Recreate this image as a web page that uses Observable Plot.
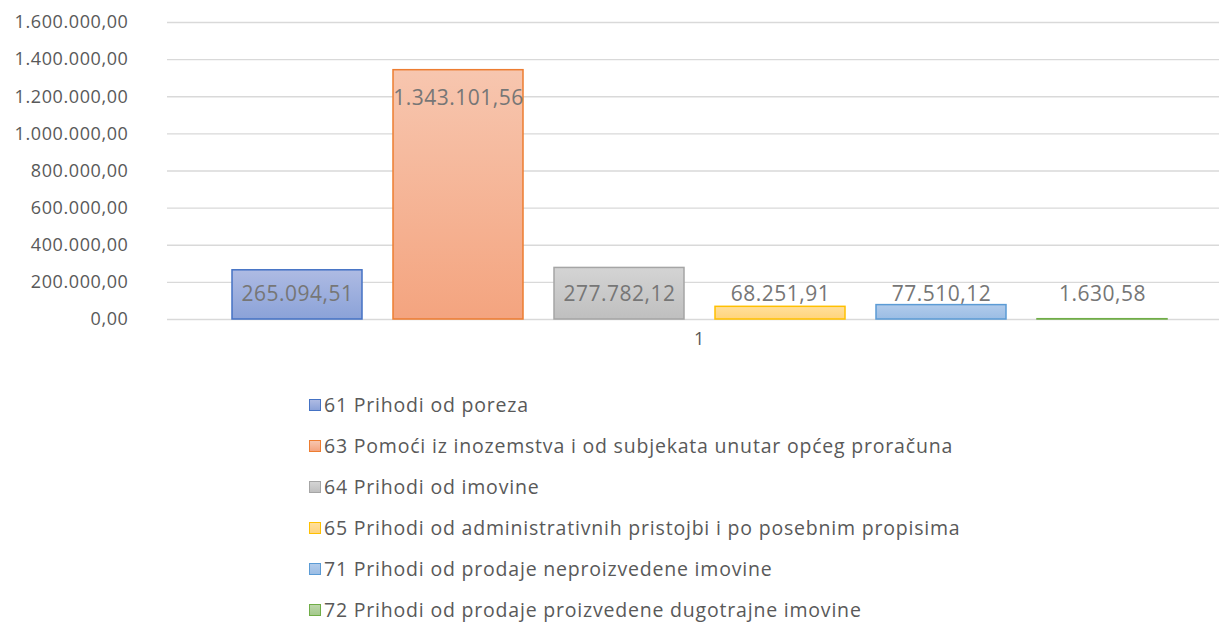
<!DOCTYPE html>
<html>
<head>
<meta charset="utf-8">
<script src="https://cdn.jsdelivr.net/npm/d3@7"></script>
<script src="https://cdn.jsdelivr.net/npm/@observablehq/plot@0.6"></script>
<style>
  html, body { margin: 0; padding: 0; background: #fff; }
  body { width: 1219px; height: 639px; overflow: hidden; font-family: "Open Sans", sans-serif; }
  #legend { position: absolute; left: 309px; top: 384px; }
  .item { display: flex; align-items: center; height: 41px; font-size: 19.5px; color: #595959; letter-spacing: 0.8px; }
  .item .sw { width: 10px; height: 10px; border: 1.5px solid; margin-right: 3px; }
  svg text { letter-spacing: 0.6px; }
  svg text.lab { letter-spacing: 0.5px; }
</style>
</head>
<body>
<div id="chart"></div>
<div id="legend"></div>
<script>
const categories = ["1"];
const series = [
  "61 Prihodi od poreza",
  "63 Pomoći iz inozemstva i od subjekata unutar općeg proračuna",
  "64 Prihodi od imovine",
  "65 Prihodi od administrativnih pristojbi i po posebnim propisima",
  "71 Prihodi od prodaje neproizvedene imovine",
  "72 Prihodi od prodaje proizvedene dugotrajne imovine"
];
const values = [265094.51, 1343101.56, 277782.12, 68251.91, 77510.12, 1630.58];
const labels = ["265.094,51", "1.343.101,56", "277.782,12", "68.251,91", "77.510,12", "1.630,58"];
const yTicks = [0, 200000, 400000, 600000, 800000, 1000000, 1200000, 1400000, 1600000];
const strokes = ["#4472c4", "#ed7d31", "#a5a5a5", "#ffc000", "#5b9bd5", "#70ad47"];
const fillTop = ["#aebbe3", "#f7c6af", "#d4d4d4", "#ffdf9c", "#b1cbeb", "#bcd7aa"];
const fillBottom = ["#8ba2d8", "#f4a47f", "#bfbfbf", "#ffd47c", "#9bbde4", "#a4c98c"];

const fmt = v => {
  const s = v.toFixed(2);
  let [i, d] = s.split(".");
  i = i.replace(/\B(?=(\d{3})+(?!\d))/g, ".");
  return i + "," + d;
};

const data = series.map((s, i) => ({
  category: categories[0],
  series: s,
  value: values[i],
  label: labels[i],
  fill: `url(#grad${i})`,
  stroke: strokes[i]
}));

const chart = Plot.plot({
  width: 1219,
  height: 360,
  marginTop: 22,
  marginBottom: 41,
  marginLeft: 167,
  marginRight: 0,
  style: { fontFamily: "'Open Sans', sans-serif", fontSize: "18px", color: "#595959", background: "#fff" },
  x: { domain: series, range: [216.5, 1183.5], paddingInner: 0.19, paddingOuter: 0.095, axis: null },
  y: { domain: [0, 1600000], ticks: yTicks, tickFormat: fmt, tickSize: 0, tickPadding: 39, label: null, grid: false },
  color: { type: "identity" },
  marks: [
    Plot.gridY(yTicks, { stroke: "#d9d9d9", strokeOpacity: 1, strokeWidth: 1.3 }),
    Plot.barY(data, { x: "series", y: "value", fill: "fill", stroke: "stroke", strokeWidth: 1.5 }),
    Plot.text(data, {
      x: "series",
      y: d => Math.max(d.value - 150000, 135000),
      text: "label",
      fill: "#767676",
      fontSize: 21,
      className: "lab"
    }),
    Plot.text(categories, { frameAnchor: "bottom", dx: 6, dy: 25, text: d => d, fill: "#595959", fontSize: 18 })
  ]
});

const svg = d3.select(chart);
svg.selectAll("g.lab text").classed("lab", true);
const defs = svg.insert("defs", ":first-child");
strokes.forEach((s, i) => {
  const g = defs.append("linearGradient").attr("id", `grad${i}`).attr("x1", 0).attr("y1", 0).attr("x2", 0).attr("y2", 1);
  g.append("stop").attr("offset", "0%").attr("stop-color", fillTop[i]);
  g.append("stop").attr("offset", "100%").attr("stop-color", fillBottom[i]);
});
document.getElementById("chart").appendChild(chart);

const legend = d3.select("#legend");
series.forEach((s, i) => {
  const it = legend.append("div").attr("class", "item");
  it.append("div").attr("class", "sw")
    .style("border-color", strokes[i])
    .style("background", `linear-gradient(${fillTop[i]}, ${fillBottom[i]})`);
  it.append("span").text(s);
});
</script>
</body>
</html>
